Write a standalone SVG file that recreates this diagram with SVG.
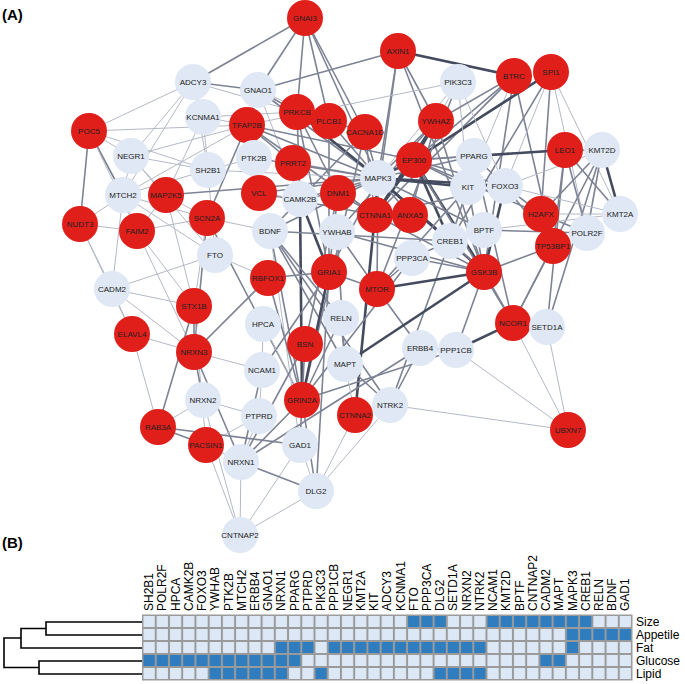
<svg xmlns="http://www.w3.org/2000/svg" width="685" height="684" viewBox="0 0 685 684">
<defs>
<pattern id="pg" patternUnits="userSpaceOnUse" x="142.5" y="615" width="13.23" height="13"><rect width="13.23" height="13" fill="#9a9a9a"/><rect x="1" y="1" width="11.23" height="11" fill="#dce8f6"/></pattern>
<pattern id="pb" patternUnits="userSpaceOnUse" x="142.5" y="615" width="13.23" height="13"><rect width="13.23" height="13" fill="#9a9a9a"/><rect x="1" y="1" width="11.23" height="11" fill="#2f7dbf"/></pattern>
</defs>
<style>
.e1{stroke:#b4b9c6;stroke-width:1}
.e2{stroke:#7d8394;stroke-width:1.6}
.e3{stroke:#454b5e;stroke-width:2.6}
.r{fill:#e01e1a}
.b{fill:#dfe8f4}
.t{font-family:"Liberation Sans",Arial,sans-serif;font-size:8px;text-anchor:middle;dominant-baseline:central;fill:#222}
.h{font-family:"Liberation Sans",Arial,sans-serif;font-size:15px;font-weight:bold;fill:#000}
.cl{font-family:"Liberation Sans",Arial,sans-serif;font-size:12px;fill:#000;dominant-baseline:central}
.g{fill:url(#pg)}
.k{fill:url(#pb)}
.d{fill:none;stroke:#000;stroke-width:1.6}
</style>
<rect width="685" height="684" fill="#fff"/>
<text class="h" x="2" y="20">(A)</text>
<text class="h" x="2" y="548">(B)</text>
<g id="connectors">
<line class="e2" x1="305" y1="18" x2="193" y2="82"/><line class="e2" x1="305" y1="18" x2="258" y2="90"/><line class="e2" x1="305" y1="18" x2="297" y2="112"/><line class="e2" x1="305" y1="18" x2="329" y2="121"/><line class="e2" x1="305" y1="18" x2="365" y2="132"/><line class="e2" x1="305" y1="18" x2="378" y2="178"/>
<line class="e2" x1="398" y1="51" x2="258" y2="90"/><line class="e3" x1="398" y1="51" x2="514" y2="76"/><line class="e2" x1="398" y1="51" x2="378" y2="178"/><line class="e2" x1="398" y1="51" x2="436" y2="121"/><line class="e2" x1="398" y1="51" x2="375" y2="215"/><line class="e2" x1="398" y1="51" x2="484" y2="272"/>
<line class="e2" x1="514" y1="76" x2="414" y2="160"/><line class="e1" x1="514" y1="76" x2="468" y2="187"/><line class="e2" x1="514" y1="76" x2="375" y2="215"/><line class="e2" x1="514" y1="76" x2="484" y2="272"/><line class="e2" x1="514" y1="76" x2="553" y2="246"/>
<line class="e3" x1="551" y1="72" x2="414" y2="160"/><line class="e1" x1="551" y1="72" x2="620" y2="214"/><line class="e2" x1="551" y1="72" x2="541" y2="214"/><line class="e1" x1="551" y1="72" x2="505" y2="186"/><line class="e2" x1="551" y1="72" x2="450" y2="241"/><line class="e1" x1="551" y1="72" x2="587" y2="233"/>
<line class="e2" x1="193" y1="82" x2="258" y2="90"/><line class="e1" x1="193" y1="82" x2="89" y2="131"/><line class="e1" x1="193" y1="82" x2="203" y2="117"/><line class="e1" x1="193" y1="82" x2="131" y2="156"/><line class="e1" x1="193" y1="82" x2="297" y2="112"/><line class="e1" x1="193" y1="82" x2="123" y2="195"/><line class="e1" x1="193" y1="82" x2="208" y2="170"/>
<line class="e2" x1="258" y1="90" x2="297" y2="112"/><line class="e1" x1="258" y1="90" x2="247" y2="125"/><line class="e2" x1="258" y1="90" x2="378" y2="178"/><line class="e1" x1="258" y1="90" x2="300" y2="199"/><line class="e1" x1="258" y1="90" x2="329" y2="121"/>
<line class="e1" x1="458" y1="82" x2="247" y2="125"/><line class="e2" x1="458" y1="82" x2="377" y2="289"/><line class="e1" x1="458" y1="82" x2="414" y2="160"/><line class="e1" x1="458" y1="82" x2="505" y2="186"/><line class="e1" x1="458" y1="82" x2="468" y2="187"/><line class="e1" x1="458" y1="82" x2="378" y2="178"/>
<line class="e1" x1="203" y1="117" x2="247" y2="125"/><line class="e1" x1="203" y1="117" x2="208" y2="170"/><line class="e1" x1="203" y1="117" x2="297" y2="112"/><line class="e1" x1="203" y1="117" x2="166" y2="195"/>
<line class="e1" x1="89" y1="131" x2="131" y2="156"/><line class="e2" x1="89" y1="131" x2="123" y2="195"/><line class="e2" x1="89" y1="131" x2="80" y2="224"/><line class="e1" x1="89" y1="131" x2="137" y2="231"/><line class="e1" x1="89" y1="131" x2="208" y2="170"/><line class="e1" x1="89" y1="131" x2="247" y2="125"/>
<line class="e2" x1="247" y1="125" x2="378" y2="178"/><line class="e2" x1="247" y1="125" x2="293" y2="163"/><line class="e2" x1="247" y1="125" x2="207" y2="218"/><line class="e1" x1="247" y1="125" x2="131" y2="156"/><line class="e1" x1="247" y1="125" x2="123" y2="195"/><line class="e2" x1="247" y1="125" x2="375" y2="215"/><line class="e2" x1="247" y1="125" x2="414" y2="160"/>
<line class="e3" x1="297" y1="112" x2="378" y2="178"/><line class="e2" x1="297" y1="112" x2="338" y2="193"/><line class="e2" x1="297" y1="112" x2="300" y2="199"/><line class="e2" x1="297" y1="112" x2="329" y2="272"/><line class="e2" x1="297" y1="112" x2="329" y2="121"/>
<line class="e2" x1="329" y1="121" x2="378" y2="178"/><line class="e2" x1="329" y1="121" x2="365" y2="132"/><line class="e2" x1="329" y1="121" x2="329" y2="272"/>
<line class="e2" x1="365" y1="132" x2="378" y2="178"/><line class="e2" x1="365" y1="132" x2="375" y2="215"/><line class="e2" x1="365" y1="132" x2="302" y2="400"/><line class="e2" x1="365" y1="132" x2="300" y2="199"/>
<line class="e2" x1="436" y1="121" x2="378" y2="178"/><line class="e3" x1="436" y1="121" x2="414" y2="160"/><line class="e3" x1="436" y1="121" x2="375" y2="215"/><line class="e2" x1="436" y1="121" x2="410" y2="215"/><line class="e2" x1="436" y1="121" x2="484" y2="272"/><line class="e2" x1="436" y1="121" x2="337" y2="232"/><line class="e2" x1="436" y1="121" x2="514" y2="76"/>
<line class="e3" x1="414" y1="160" x2="378" y2="178"/><line class="e2" x1="414" y1="160" x2="474" y2="156"/><line class="e2" x1="414" y1="160" x2="565" y2="150"/><line class="e2" x1="414" y1="160" x2="468" y2="187"/><line class="e2" x1="414" y1="160" x2="505" y2="186"/><line class="e3" x1="414" y1="160" x2="450" y2="241"/><line class="e3" x1="414" y1="160" x2="375" y2="215"/><line class="e2" x1="414" y1="160" x2="541" y2="214"/><line class="e3" x1="414" y1="160" x2="484" y2="272"/><line class="e2" x1="414" y1="160" x2="513" y2="323"/>
<line class="e3" x1="474" y1="156" x2="565" y2="150"/><line class="e2" x1="474" y1="156" x2="505" y2="186"/><line class="e2" x1="474" y1="156" x2="378" y2="178"/><line class="e2" x1="474" y1="156" x2="513" y2="323"/>
<line class="e2" x1="565" y1="150" x2="602" y2="150"/><line class="e2" x1="565" y1="150" x2="587" y2="233"/><line class="e2" x1="565" y1="150" x2="553" y2="246"/><line class="e2" x1="565" y1="150" x2="620" y2="214"/><line class="e2" x1="565" y1="150" x2="547" y2="327"/>
<line class="e3" x1="602" y1="150" x2="620" y2="214"/><line class="e2" x1="602" y1="150" x2="587" y2="233"/><line class="e2" x1="602" y1="150" x2="541" y2="214"/><line class="e2" x1="602" y1="150" x2="547" y2="327"/><line class="e2" x1="602" y1="150" x2="513" y2="323"/><line class="e1" x1="602" y1="150" x2="505" y2="186"/>
<line class="e1" x1="208" y1="170" x2="378" y2="178"/><line class="e1" x1="208" y1="170" x2="131" y2="156"/><line class="e1" x1="208" y1="170" x2="215" y2="255"/><line class="e1" x1="208" y1="170" x2="123" y2="195"/><line class="e1" x1="208" y1="170" x2="254" y2="158"/>
<line class="e2" x1="378" y1="178" x2="338" y2="193"/><line class="e3" x1="378" y1="178" x2="468" y2="187"/><line class="e3" x1="378" y1="178" x2="505" y2="186"/><line class="e3" x1="378" y1="178" x2="375" y2="215"/><line class="e2" x1="378" y1="178" x2="410" y2="215"/><line class="e3" x1="378" y1="178" x2="450" y2="241"/><line class="e3" x1="378" y1="178" x2="484" y2="272"/><line class="e2" x1="378" y1="178" x2="270" y2="231"/><line class="e2" x1="378" y1="178" x2="377" y2="289"/><line class="e2" x1="378" y1="178" x2="329" y2="272"/><line class="e2" x1="378" y1="178" x2="300" y2="199"/><line class="e2" x1="378" y1="178" x2="254" y2="158"/><line class="e2" x1="378" y1="178" x2="293" y2="163"/><line class="e2" x1="378" y1="178" x2="259" y2="193"/><line class="e2" x1="378" y1="178" x2="484" y2="230"/>
<line class="e2" x1="468" y1="187" x2="505" y2="186"/><line class="e2" x1="468" y1="187" x2="450" y2="241"/><line class="e2" x1="468" y1="187" x2="484" y2="272"/><line class="e2" x1="468" y1="187" x2="377" y2="289"/>
<line class="e2" x1="505" y1="186" x2="541" y2="214"/><line class="e3" x1="505" y1="186" x2="484" y2="272"/><line class="e1" x1="505" y1="186" x2="620" y2="214"/><line class="e2" x1="505" y1="186" x2="553" y2="246"/><line class="e2" x1="505" y1="186" x2="375" y2="215"/>
<line class="e1" x1="123" y1="195" x2="131" y2="156"/><line class="e1" x1="123" y1="195" x2="137" y2="231"/><line class="e1" x1="123" y1="195" x2="80" y2="224"/><line class="e1" x1="123" y1="195" x2="112" y2="289"/><line class="e1" x1="123" y1="195" x2="215" y2="255"/><line class="e1" x1="123" y1="195" x2="207" y2="218"/>
<line class="e1" x1="166" y1="195" x2="131" y2="156"/><line class="e1" x1="166" y1="195" x2="137" y2="231"/><line class="e2" x1="166" y1="195" x2="378" y2="178"/><line class="e1" x1="166" y1="195" x2="207" y2="218"/><line class="e1" x1="166" y1="195" x2="194" y2="306"/>
<line class="e2" x1="259" y1="193" x2="375" y2="215"/><line class="e1" x1="259" y1="193" x2="300" y2="199"/><line class="e2" x1="259" y1="193" x2="254" y2="158"/>
<line class="e3" x1="300" y1="199" x2="329" y2="272"/><line class="e2" x1="300" y1="199" x2="338" y2="193"/><line class="e3" x1="300" y1="199" x2="302" y2="400"/><line class="e2" x1="300" y1="199" x2="270" y2="231"/>
<line class="e2" x1="338" y1="193" x2="375" y2="215"/><line class="e2" x1="338" y1="193" x2="305" y2="344"/><line class="e2" x1="338" y1="193" x2="329" y2="272"/>
<line class="e2" x1="375" y1="215" x2="410" y2="215"/><line class="e3" x1="375" y1="215" x2="355" y2="415"/><line class="e2" x1="375" y1="215" x2="484" y2="272"/>
<line class="e3" x1="541" y1="214" x2="553" y2="246"/><line class="e1" x1="541" y1="214" x2="620" y2="214"/><line class="e2" x1="541" y1="214" x2="587" y2="233"/>
<line class="e1" x1="80" y1="224" x2="137" y2="231"/><line class="e1" x1="80" y1="224" x2="112" y2="289"/><line class="e1" x1="80" y1="224" x2="132" y2="334"/>
<line class="e1" x1="137" y1="231" x2="207" y2="218"/><line class="e1" x1="137" y1="231" x2="194" y2="306"/><line class="e1" x1="137" y1="231" x2="194" y2="352"/>
<line class="e1" x1="207" y1="218" x2="270" y2="231"/><line class="e2" x1="207" y1="218" x2="194" y2="352"/><line class="e2" x1="207" y1="218" x2="302" y2="400"/><line class="e1" x1="207" y1="218" x2="194" y2="306"/>
<line class="e2" x1="270" y1="231" x2="390" y2="405"/><line class="e2" x1="270" y1="231" x2="450" y2="241"/><line class="e2" x1="270" y1="231" x2="345" y2="364"/><line class="e2" x1="270" y1="231" x2="302" y2="400"/><line class="e2" x1="270" y1="231" x2="341" y2="318"/><line class="e1" x1="270" y1="231" x2="300" y2="445"/>
<line class="e2" x1="337" y1="232" x2="377" y2="289"/><line class="e2" x1="337" y1="232" x2="484" y2="272"/><line class="e2" x1="337" y1="232" x2="345" y2="364"/>
<line class="e2" x1="450" y1="241" x2="484" y2="272"/><line class="e2" x1="450" y1="241" x2="412" y2="258"/><line class="e2" x1="450" y1="241" x2="390" y2="405"/>
<line class="e2" x1="484" y1="230" x2="587" y2="233"/><line class="e1" x1="484" y1="230" x2="620" y2="214"/><line class="e1" x1="484" y1="230" x2="450" y2="241"/>
<line class="e2" x1="553" y1="246" x2="513" y2="323"/><line class="e2" x1="553" y1="246" x2="484" y2="272"/>
<line class="e1" x1="215" y1="255" x2="112" y2="289"/><line class="e1" x1="215" y1="255" x2="131" y2="156"/><line class="e1" x1="215" y1="255" x2="268" y2="278"/>
<line class="e1" x1="112" y1="289" x2="194" y2="306"/><line class="e1" x1="112" y1="289" x2="194" y2="352"/><line class="e1" x1="112" y1="289" x2="132" y2="334"/>
<line class="e2" x1="268" y1="278" x2="329" y2="272"/><line class="e2" x1="268" y1="278" x2="302" y2="400"/><line class="e2" x1="268" y1="278" x2="194" y2="352"/>
<line class="e3" x1="329" y1="272" x2="302" y2="400"/><line class="e2" x1="329" y1="272" x2="377" y2="289"/><line class="e2" x1="329" y1="272" x2="316" y2="491"/><line class="e2" x1="329" y1="272" x2="262" y2="370"/>
<line class="e3" x1="377" y1="289" x2="484" y2="272"/><line class="e2" x1="377" y1="289" x2="412" y2="258"/><line class="e2" x1="377" y1="289" x2="420" y2="348"/>
<line class="e2" x1="412" y1="258" x2="484" y2="272"/><line class="e2" x1="412" y1="258" x2="302" y2="400"/>
<line class="e2" x1="484" y1="272" x2="513" y2="323"/><line class="e3" x1="484" y1="272" x2="345" y2="364"/><line class="e2" x1="484" y1="272" x2="456" y2="350"/>
<line class="e2" x1="194" y1="306" x2="194" y2="352"/><line class="e2" x1="194" y1="306" x2="158" y2="427"/><line class="e1" x1="194" y1="306" x2="206" y2="445"/>
<line class="e1" x1="132" y1="334" x2="194" y2="352"/><line class="e1" x1="132" y1="334" x2="158" y2="427"/>
<line class="e1" x1="263" y1="324" x2="262" y2="370"/><line class="e1" x1="263" y1="324" x2="302" y2="400"/>
<line class="e2" x1="341" y1="318" x2="345" y2="364"/><line class="e2" x1="341" y1="318" x2="302" y2="400"/>
<line class="e2" x1="513" y1="323" x2="547" y2="327"/><line class="e3" x1="513" y1="323" x2="456" y2="350"/><line class="e1" x1="513" y1="323" x2="568" y2="430"/>
<line class="e1" x1="547" y1="327" x2="568" y2="430"/>
<line class="e2" x1="305" y1="344" x2="302" y2="400"/><line class="e2" x1="305" y1="344" x2="241" y2="462"/>
<line class="e2" x1="194" y1="352" x2="203" y2="400"/><line class="e2" x1="194" y1="352" x2="241" y2="462"/><line class="e1" x1="194" y1="352" x2="262" y2="370"/>
<line class="e2" x1="420" y1="348" x2="390" y2="405"/><line class="e2" x1="420" y1="348" x2="456" y2="350"/><line class="e2" x1="420" y1="348" x2="241" y2="462"/>
<line class="e1" x1="456" y1="350" x2="568" y2="430"/><line class="e2" x1="456" y1="350" x2="302" y2="400"/>
<line class="e2" x1="345" y1="364" x2="390" y2="405"/><line class="e1" x1="345" y1="364" x2="355" y2="415"/>
<line class="e1" x1="262" y1="370" x2="259" y2="416"/><line class="e2" x1="262" y1="370" x2="241" y2="462"/>
<line class="e1" x1="203" y1="400" x2="259" y2="416"/><line class="e1" x1="203" y1="400" x2="158" y2="427"/><line class="e1" x1="203" y1="400" x2="240" y2="535"/>
<line class="e2" x1="302" y1="400" x2="316" y2="491"/><line class="e2" x1="302" y1="400" x2="300" y2="445"/><line class="e2" x1="302" y1="400" x2="241" y2="462"/>
<line class="e1" x1="355" y1="415" x2="316" y2="491"/>
<line class="e1" x1="259" y1="416" x2="206" y2="445"/><line class="e1" x1="259" y1="416" x2="241" y2="462"/>
<line class="e2" x1="158" y1="427" x2="206" y2="445"/><line class="e2" x1="158" y1="427" x2="300" y2="445"/>
<line class="e1" x1="206" y1="445" x2="241" y2="462"/><line class="e1" x1="206" y1="445" x2="240" y2="535"/>
<line class="e1" x1="300" y1="445" x2="316" y2="491"/><line class="e1" x1="300" y1="445" x2="240" y2="535"/>
<line class="e1" x1="241" y1="462" x2="240" y2="535"/><line class="e2" x1="241" y1="462" x2="316" y2="491"/>
<line class="e1" x1="316" y1="491" x2="240" y2="535"/><line class="e1" x1="316" y1="491" x2="390" y2="405"/>
<line class="e1" x1="568" y1="430" x2="390" y2="405"/>
</g>
<g id="n-GNAI3"><circle class="r" cx="305" cy="18" r="18"/><text class="t" x="305" y="18">GNAI3</text></g>
<g id="n-AXIN1"><circle class="r" cx="398" cy="51" r="18"/><text class="t" x="398" y="51">AXIN1</text></g>
<g id="n-BTRC"><circle class="r" cx="514" cy="76" r="18"/><text class="t" x="514" y="76">BTRC</text></g>
<g id="n-SPI1"><circle class="r" cx="551" cy="72" r="18"/><text class="t" x="551" y="72">SPI1</text></g>
<g id="n-ADCY3"><circle class="b" cx="193" cy="82" r="18"/><text class="t" x="193" y="82">ADCY3</text></g>
<g id="n-GNAO1"><circle class="b" cx="258" cy="90" r="18"/><text class="t" x="258" y="90">GNAO1</text></g>
<g id="n-PIK3C3"><circle class="b" cx="458" cy="82" r="18"/><text class="t" x="458" y="82">PIK3C3</text></g>
<g id="n-KCNMA1"><circle class="b" cx="203" cy="117" r="18"/><text class="t" x="203" y="117">KCNMA1</text></g>
<g id="n-POC5"><circle class="r" cx="89" cy="131" r="18"/><text class="t" x="89" y="131">POC5</text></g>
<g id="n-TFAP2B"><circle class="r" cx="247" cy="125" r="18"/><text class="t" x="247" y="125">TFAP2B</text></g>
<g id="n-PRKCB"><circle class="r" cx="297" cy="112" r="18"/><text class="t" x="297" y="112">PRKCB</text></g>
<g id="n-PLCB1"><circle class="r" cx="329" cy="121" r="18"/><text class="t" x="329" y="121">PLCB1</text></g>
<g id="n-CACNA1D"><circle class="r" cx="365" cy="132" r="18"/><text class="t" x="365" y="132">CACNA1D</text></g>
<g id="n-YWHAZ"><circle class="r" cx="436" cy="121" r="18"/><text class="t" x="436" y="121">YWHAZ</text></g>
<g id="n-NEGR1"><circle class="b" cx="131" cy="156" r="18"/><text class="t" x="131" y="156">NEGR1</text></g>
<g id="n-PTK2B"><circle class="b" cx="254" cy="158" r="18"/><text class="t" x="254" y="158">PTK2B</text></g>
<g id="n-PRRT2"><circle class="r" cx="293" cy="163" r="18"/><text class="t" x="293" y="163">PRRT2</text></g>
<g id="n-EP300"><circle class="r" cx="414" cy="160" r="18"/><text class="t" x="414" y="160">EP300</text></g>
<g id="n-PPARG"><circle class="b" cx="474" cy="156" r="18"/><text class="t" x="474" y="156">PPARG</text></g>
<g id="n-LEO1"><circle class="r" cx="565" cy="150" r="18"/><text class="t" x="565" y="150">LEO1</text></g>
<g id="n-KMT2D"><circle class="b" cx="602" cy="150" r="18"/><text class="t" x="602" y="150">KMT2D</text></g>
<g id="n-SH2B1"><circle class="b" cx="208" cy="170" r="18"/><text class="t" x="208" y="170">SH2B1</text></g>
<g id="n-MAPK3"><circle class="b" cx="378" cy="178" r="18"/><text class="t" x="378" y="178">MAPK3</text></g>
<g id="n-KIT"><circle class="b" cx="468" cy="187" r="18"/><text class="t" x="468" y="187">KIT</text></g>
<g id="n-FOXO3"><circle class="b" cx="505" cy="186" r="18"/><text class="t" x="505" y="186">FOXO3</text></g>
<g id="n-MTCH2"><circle class="b" cx="123" cy="195" r="18"/><text class="t" x="123" y="195">MTCH2</text></g>
<g id="n-MAP2K5"><circle class="r" cx="166" cy="195" r="18"/><text class="t" x="166" y="195">MAP2K5</text></g>
<g id="n-VCL"><circle class="r" cx="259" cy="193" r="18"/><text class="t" x="259" y="193">VCL</text></g>
<g id="n-CAMK2B"><circle class="b" cx="300" cy="199" r="18"/><text class="t" x="300" y="199">CAMK2B</text></g>
<g id="n-DNM1"><circle class="r" cx="338" cy="193" r="18"/><text class="t" x="338" y="193">DNM1</text></g>
<g id="n-CTNNA1"><circle class="r" cx="375" cy="215" r="18"/><text class="t" x="375" y="215">CTNNA1</text></g>
<g id="n-ANXA5"><circle class="r" cx="410" cy="215" r="18"/><text class="t" x="410" y="215">ANXA5</text></g>
<g id="n-H2AFX"><circle class="r" cx="541" cy="214" r="18"/><text class="t" x="541" y="214">H2AFX</text></g>
<g id="n-KMT2A"><circle class="b" cx="620" cy="214" r="18"/><text class="t" x="620" y="214">KMT2A</text></g>
<g id="n-NUDT3"><circle class="r" cx="80" cy="224" r="18"/><text class="t" x="80" y="224">NUDT3</text></g>
<g id="n-FAIM2"><circle class="r" cx="137" cy="231" r="18"/><text class="t" x="137" y="231">FAIM2</text></g>
<g id="n-SCN2A"><circle class="r" cx="207" cy="218" r="18"/><text class="t" x="207" y="218">SCN2A</text></g>
<g id="n-BDNF"><circle class="b" cx="270" cy="231" r="18"/><text class="t" x="270" y="231">BDNF</text></g>
<g id="n-YWHAB"><circle class="b" cx="337" cy="232" r="18"/><text class="t" x="337" y="232">YWHAB</text></g>
<g id="n-CREB1"><circle class="b" cx="450" cy="241" r="18"/><text class="t" x="450" y="241">CREB1</text></g>
<g id="n-BPTF"><circle class="b" cx="484" cy="230" r="18"/><text class="t" x="484" y="230">BPTF</text></g>
<g id="n-POLR2F"><circle class="b" cx="587" cy="233" r="18"/><text class="t" x="587" y="233">POLR2F</text></g>
<g id="n-TP53BP1"><circle class="r" cx="553" cy="246" r="18"/><text class="t" x="553" y="246">TP53BP1</text></g>
<g id="n-FTO"><circle class="b" cx="215" cy="255" r="18"/><text class="t" x="215" y="255">FTO</text></g>
<g id="n-CADM2"><circle class="b" cx="112" cy="289" r="18"/><text class="t" x="112" y="289">CADM2</text></g>
<g id="n-RBFOX1"><circle class="r" cx="268" cy="278" r="18"/><text class="t" x="268" y="278">RBFOX1</text></g>
<g id="n-GRIA1"><circle class="r" cx="329" cy="272" r="18"/><text class="t" x="329" y="272">GRIA1</text></g>
<g id="n-MTOR"><circle class="r" cx="377" cy="289" r="18"/><text class="t" x="377" y="289">MTOR</text></g>
<g id="n-PPP3CA"><circle class="b" cx="412" cy="258" r="18"/><text class="t" x="412" y="258">PPP3CA</text></g>
<g id="n-GSK3B"><circle class="r" cx="484" cy="272" r="18"/><text class="t" x="484" y="272">GSK3B</text></g>
<g id="n-STX1B"><circle class="r" cx="194" cy="306" r="18"/><text class="t" x="194" y="306">STX1B</text></g>
<g id="n-ELAVL4"><circle class="r" cx="132" cy="334" r="18"/><text class="t" x="132" y="334">ELAVL4</text></g>
<g id="n-HPCA"><circle class="b" cx="263" cy="324" r="18"/><text class="t" x="263" y="324">HPCA</text></g>
<g id="n-RELN"><circle class="b" cx="341" cy="318" r="18"/><text class="t" x="341" y="318">RELN</text></g>
<g id="n-NCOR1"><circle class="r" cx="513" cy="323" r="18"/><text class="t" x="513" y="323">NCOR1</text></g>
<g id="n-SETD1A"><circle class="b" cx="547" cy="327" r="18"/><text class="t" x="547" y="327">SETD1A</text></g>
<g id="n-BSN"><circle class="r" cx="305" cy="344" r="18"/><text class="t" x="305" y="344">BSN</text></g>
<g id="n-NRXN3"><circle class="r" cx="194" cy="352" r="18"/><text class="t" x="194" y="352">NRXN3</text></g>
<g id="n-ERBB4"><circle class="b" cx="420" cy="348" r="18"/><text class="t" x="420" y="348">ERBB4</text></g>
<g id="n-PPP1CB"><circle class="b" cx="456" cy="350" r="18"/><text class="t" x="456" y="350">PPP1CB</text></g>
<g id="n-MAPT"><circle class="b" cx="345" cy="364" r="18"/><text class="t" x="345" y="364">MAPT</text></g>
<g id="n-NCAM1"><circle class="b" cx="262" cy="370" r="18"/><text class="t" x="262" y="370">NCAM1</text></g>
<g id="n-NRXN2"><circle class="b" cx="203" cy="400" r="18"/><text class="t" x="203" y="400">NRXN2</text></g>
<g id="n-GRIN2A"><circle class="r" cx="302" cy="400" r="18"/><text class="t" x="302" y="400">GRIN2A</text></g>
<g id="n-CTNNA2"><circle class="r" cx="355" cy="415" r="18"/><text class="t" x="355" y="415">CTNNA2</text></g>
<g id="n-NTRK2"><circle class="b" cx="390" cy="405" r="18"/><text class="t" x="390" y="405">NTRK2</text></g>
<g id="n-PTPRD"><circle class="b" cx="259" cy="416" r="18"/><text class="t" x="259" y="416">PTPRD</text></g>
<g id="n-RAB3A"><circle class="r" cx="158" cy="427" r="18"/><text class="t" x="158" y="427">RAB3A</text></g>
<g id="n-PACSIN1"><circle class="r" cx="206" cy="445" r="18"/><text class="t" x="206" y="445">PACSIN1</text></g>
<g id="n-GAD1"><circle class="b" cx="300" cy="445" r="18"/><text class="t" x="300" y="445">GAD1</text></g>
<g id="n-UBXN7"><circle class="r" cx="568" cy="430" r="18"/><text class="t" x="568" y="430">UBXN7</text></g>
<g id="n-NRXN1"><circle class="b" cx="241" cy="462" r="18"/><text class="t" x="241" y="462">NRXN1</text></g>
<g id="n-DLG2"><circle class="b" cx="316" cy="491" r="18"/><text class="t" x="316" y="491">DLG2</text></g>
<g id="n-CNTNAP2"><circle class="b" cx="240" cy="535" r="18"/><text class="t" x="240" y="535">CNTNAP2</text></g>
<g id="heatmap">
<g id="dendrogram">
<path class="d" d="M142,622 H46 V635 H142"/>
<path class="d" d="M46,628.5 H21 V648 H142"/>
<path class="d" d="M142,661 H39 V674 H142"/>
<path class="d" d="M21,638 H4 V667.5 H39"/>
</g>
<g id="cells">
<rect class="g" x="142.5" y="615" width="489.51" height="65"/>
<rect class="k" x="407.1" y="615" width="39.69" height="13"/>
<rect class="k" x="486.48" y="615" width="105.84" height="13"/>
<rect class="k" x="565.86" y="628" width="66.15" height="13"/>
<rect class="k" x="274.8" y="641" width="39.69" height="13"/>
<rect class="k" x="327.72" y="641" width="158.76" height="13"/>
<rect class="k" x="565.86" y="641" width="13.23" height="13"/>
<rect class="k" x="142.5" y="654" width="158.76" height="13"/>
<rect class="k" x="539.4" y="654" width="26.46" height="13"/>
<rect class="k" x="208.65" y="667" width="79.38" height="13"/>
<rect class="k" x="314.49" y="667" width="13.23" height="13"/>
<rect class="k" x="433.56" y="667" width="52.92" height="13"/>
<rect x="142.5" y="615" width="489.51" height="65" fill="none" stroke="#9a9a9a" stroke-width="1"/>
</g>
<g id="row-labels">
<text class="cl" x="636" y="621.5">Size</text>
<text class="cl" x="636" y="634.5">Appetile</text>
<text class="cl" x="636" y="647.5">Fat</text>
<text class="cl" x="636" y="660.5">Glucose</text>
<text class="cl" x="636" y="673.5">Lipid</text>
</g>
<g id="col-labels">
<text class="cl" transform="translate(149.1,611) rotate(-90)">SH2B1</text>
<text class="cl" transform="translate(162.3,611) rotate(-90)">POLR2F</text>
<text class="cl" transform="translate(175.6,611) rotate(-90)">HPCA</text>
<text class="cl" transform="translate(188.8,611) rotate(-90)">CAMK2B</text>
<text class="cl" transform="translate(202.0,611) rotate(-90)">FOXO3</text>
<text class="cl" transform="translate(215.3,611) rotate(-90)">YWHAB</text>
<text class="cl" transform="translate(228.5,611) rotate(-90)">PTK2B</text>
<text class="cl" transform="translate(241.7,611) rotate(-90)">MTCH2</text>
<text class="cl" transform="translate(254.9,611) rotate(-90)">ERBB4</text>
<text class="cl" transform="translate(268.2,611) rotate(-90)">GNAO1</text>
<text class="cl" transform="translate(281.4,611) rotate(-90)">NRXN1</text>
<text class="cl" transform="translate(294.6,611) rotate(-90)">PPARG</text>
<text class="cl" transform="translate(307.9,611) rotate(-90)">PTPRD</text>
<text class="cl" transform="translate(321.1,611) rotate(-90)">PIK3C3</text>
<text class="cl" transform="translate(334.3,611) rotate(-90)">PPP1CB</text>
<text class="cl" transform="translate(347.5,611) rotate(-90)">NEGR1</text>
<text class="cl" transform="translate(360.8,611) rotate(-90)">KMT2A</text>
<text class="cl" transform="translate(374.0,611) rotate(-90)">KIT</text>
<text class="cl" transform="translate(387.2,611) rotate(-90)">ADCY3</text>
<text class="cl" transform="translate(400.5,611) rotate(-90)">KCNMA1</text>
<text class="cl" transform="translate(413.7,611) rotate(-90)">FTO</text>
<text class="cl" transform="translate(426.9,611) rotate(-90)">PPP3CA</text>
<text class="cl" transform="translate(440.2,611) rotate(-90)">DLG2</text>
<text class="cl" transform="translate(453.4,611) rotate(-90)">SETD1A</text>
<text class="cl" transform="translate(466.6,611) rotate(-90)">NRXN2</text>
<text class="cl" transform="translate(479.9,611) rotate(-90)">NTRK2</text>
<text class="cl" transform="translate(493.1,611) rotate(-90)">NCAM1</text>
<text class="cl" transform="translate(506.3,611) rotate(-90)">KMT2D</text>
<text class="cl" transform="translate(519.5,611) rotate(-90)">BPTF</text>
<text class="cl" transform="translate(532.8,611) rotate(-90)">CNTNAP2</text>
<text class="cl" transform="translate(546.0,611) rotate(-90)">CADM2</text>
<text class="cl" transform="translate(559.2,611) rotate(-90)">MAPT</text>
<text class="cl" transform="translate(572.5,611) rotate(-90)">MAPK3</text>
<text class="cl" transform="translate(585.7,611) rotate(-90)">CREB1</text>
<text class="cl" transform="translate(598.9,611) rotate(-90)">RELN</text>
<text class="cl" transform="translate(612.2,611) rotate(-90)">BDNF</text>
<text class="cl" transform="translate(625.4,611) rotate(-90)">GAD1</text>
</g>
</g>
</svg>
